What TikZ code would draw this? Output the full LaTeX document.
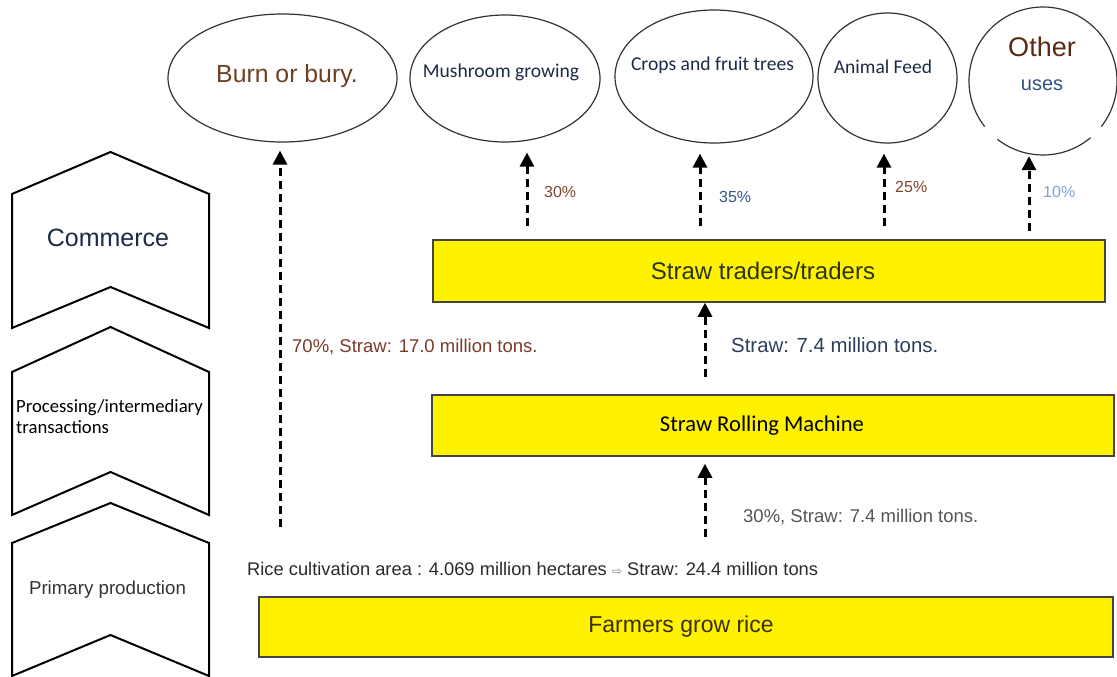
\documentclass[tikz,border=0pt]{standalone}
\usepackage{fontspec}
\setmainfont{Liberation Sans}
\newfontfamily\calibri{Carlito}
\newfontfamily\symfont{DejaVu Sans}
\usetikzlibrary{arrows.meta,shapes.geometric}

\definecolor{navytext}{HTML}{1C2B45}
\definecolor{burnbrown}{HTML}{6E4023}
\definecolor{otherbrown}{HTML}{5B2A12}
\definecolor{usesblue}{HTML}{2E5283}
\definecolor{pctbrown}{HTML}{7D4631}
\definecolor{pctblue}{HTML}{34568C}
\definecolor{pctlight}{HTML}{7FA3D6}
\definecolor{sharebrown}{HTML}{7A3B2A}
\definecolor{tonsnavy}{HTML}{2C3E5A}
\definecolor{tonsgray}{HTML}{555555}
\definecolor{ricegray}{HTML}{2A2A2A}
\definecolor{stagegray}{HTML}{333333}
\definecolor{tradertext}{HTML}{2B3310}
\definecolor{farmtext}{HTML}{3A2F00}
\definecolor{boxedge}{HTML}{444444}
\definecolor{bubbleedge}{HTML}{333333}

\newcommand\setpx[1]{\fontsize{#1}{#1}\selectfont}

\begin{document}
\begin{tikzpicture}[x=1pt,y=-1pt,
  stage/.style={draw=black,line width=2pt,line join=miter},
  usebubble/.style={ellipse,draw=bubbleedge,line width=1.2pt,inner sep=0pt},
  flowbox/.style={rectangle,draw=boxedge,line width=1.5pt,fill=yellow,inner sep=0pt},
  flow/.style={line width=3pt,dash pattern=on 8pt off 5pt,
               -{Triangle[length=14pt,width=14pt]}},
  txt/.style={inner sep=0pt}
]
\useasboundingbox (0,0) rectangle (1117,677);

% ---- stage chevrons on the left ----
\draw[stage] (12,194) -- (110.5,152) -- (209,194) -- (209,328)
             -- (110.5,287) -- (12,328) -- cycle;
\draw[stage] (12,372) -- (110.5,327) -- (209,372) -- (209,515)
             -- (110.5,472) -- (12,515) -- cycle;
\draw[stage] (12,543) -- (110.5,503) -- (209,543) -- (209,676)
             -- (110.5,635) -- (12,676) -- cycle;

\node[txt,text=navytext] (commerce) at (108,238) {\setpx{25}Commerce};
\node[txt,anchor=west,align=left,font=\calibri\setpx{18.7}] (processing) at (16,416.5)
  {\setpx{18.7}Processing/intermediary\\[3pt]transactions};
\node[txt,text=stagegray] (primary) at (107.5,590) {\setpx{18.7}Primary production};

% ---- destinations of the straw ----
\node[usebubble,minimum width=229pt,minimum height=128pt] (burn) at (282.5,78) {};
\node[txt,text=burnbrown] (burnlbl) at (287,76) {\setpx{24.8}Burn or bury.};

\node[usebubble,minimum width=190pt,minimum height=127pt] (mushroom) at (505,78.5) {};
\node[txt,text=navytext] (mushlbl) at (501,72) {\calibri\setpx{19.6}Mushroom growing};

\node[usebubble,minimum width=198pt,minimum height=133pt] (crops) at (714,76.5) {};
\node[txt,text=navytext] (cropslbl) at (712.5,65) {\calibri\setpx{19.6}Crops and fruit trees};

\node[usebubble,minimum width=139pt,minimum height=130pt] (feed) at (887.5,78) {};
\node[txt,text=navytext] (feedlbl) at (883,67) {\calibri\setpx{19.5}Animal Feed};

\node[ellipse,inner sep=0pt,minimum width=148pt,minimum height=148pt] (other) at (1043,81) {};
\draw[bubbleedge,line width=1.2pt]
  ([shift={(232:74pt)}]other.center) arc[start angle=232,end angle=310,radius=74pt];
\draw[bubbleedge,line width=1.2pt]
  ([shift={(322:74pt)}]other.center) arc[start angle=322,end angle=578,radius=74pt];
\node[txt,text=otherbrown] (otherlbl) at (1042,47) {\setpx{27}Other};
\node[txt,text=usesblue] (useslbl) at (1042,85) {\setpx{20}uses};

% ---- yellow process boxes (labels sit a little left of centre) ----
\node[flowbox,minimum width=672pt,minimum height=62pt,text=tradertext] (traders) at (769,271)
  {\hspace*{-12pt}\setpx{24}Straw traders/traders};
\node[flowbox,minimum width=682pt,minimum height=61pt] (rolling) at (773,425.5)
  {\hspace*{-22pt}\calibri\setpx{22.6}Straw Rolling Machine};
\node[flowbox,minimum width=854pt,minimum height=60pt,text=farmtext] (farmers) at (686,627)
  {\hspace*{-10pt}\setpx{23}Farmers grow rice};

% ---- flows ----
\coordinate (burnsrc) at (280,527);
\coordinate (machsrc) at (705,537);
\coordinate (tradesrc) at (705,377);

\draw[flow,shorten >=8pt] (burnsrc) -- (burnsrc |- burn.south);
\draw[flow,shorten >=7pt] (machsrc) -- (machsrc |- rolling.south);
\draw[flow] (tradesrc) -- (tradesrc |- traders.south);

\draw[flow,shorten <=13pt,shorten >=10pt] (traders.north -| 527,0) -- (mushroom.south -| 527,0);
\draw[flow,shorten <=13pt,shorten >=10pt] (traders.north -| 700,0) -- (crops.south -| 700,0);
\draw[flow,shorten <=13pt,shorten >=10pt] (traders.north -| 884,0) -- (feed.south -| 884,0);
\draw[flow,shorten <=8pt,shorten >=1pt] (traders.north -| 1029,0) -- (other.south -| 1029,0);

% ---- flow labels ----
\node[txt,anchor=west,text=pctbrown] (p30) at (544,192) {\setpx{16}30\%};
\node[txt,anchor=west,text=pctblue] (p35) at (719,197) {\setpx{16}35\%};
\node[txt,anchor=west,text=pctbrown] (p25) at (895,187) {\setpx{16}25\%};
\node[txt,anchor=west,text=pctlight] (p10) at (1043,192) {\setpx{16}10\%};

\node[txt,anchor=west,text=sharebrown] (burnshare) at (292,347)
  {\setpx{18.5}70\%, Straw: 17.0 million tons.};
\node[txt,anchor=west,text=tonsnavy] (tradetons) at (731,345)
  {\setpx{20.4}Straw: 7.4 million tons.};
\node[txt,anchor=west,text=tonsgray] (machtons) at (743,517)
  {\setpx{18.5}30\%, Straw: 7.4 million tons.};
\node[txt,anchor=west,text=ricegray] (ricearea) at (247,569)
  {\setpx{18.3}Rice cultivation area : 4.069 million hectares
   {\symfont\setpx{12}\color{gray}⇨} Straw: 24.4 million tons};
\end{tikzpicture}
\end{document}
